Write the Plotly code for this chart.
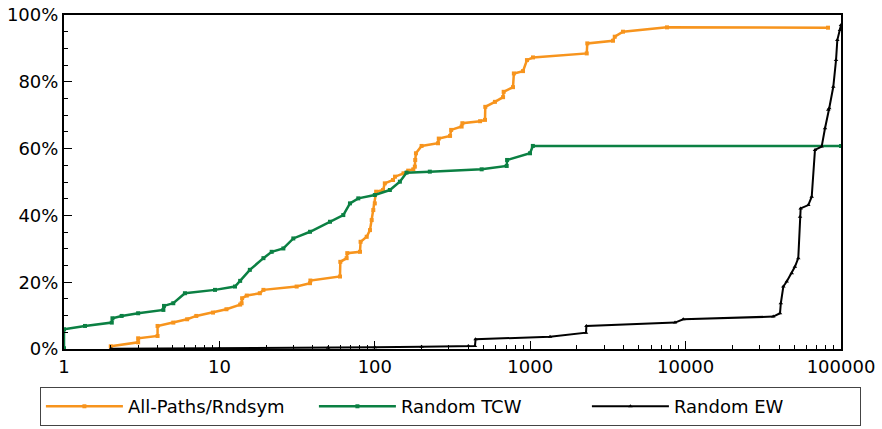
import plotly.graph_objects as go

# All-Paths/Rndsym (orange)
allpaths_x = [2, 3, 3, 4, 4, 5.05, 6.2, 7.1, 9.1, 11.1, 13.6, 13.9, 14, 15, 18.2, 19.2, 31.4,
              38.3, 38.5, 59.7, 60, 65.9, 66.5, 80.3, 81, 88.7, 93.1, 95.5, 97.8, 100, 102,
              113, 116, 131, 135, 153, 164, 177, 181, 182, 184, 200, 255, 258, 305, 310,
              362, 366, 476, 512, 514, 593, 669, 675, 775, 785, 899, 953, 1042, 2311, 2330,
              3411, 3500, 3955, 7590, 82500]
allpaths_y = [0.8, 2.0, 3.2, 3.9, 6.9, 7.9, 8.9, 9.9, 10.9, 11.9, 13.3, 13.7, 15.2, 16.0, 16.7,
              17.7, 18.7, 19.7, 20.5, 21.7, 26.1, 27.2, 28.7, 29.1, 32.1, 33.6, 35.6, 38.6,
              41.6, 43.6, 47.1, 47.6, 49.6, 50.6, 51.6, 52.6, 53.4, 53.8, 54.6, 56.6, 58.6,
              60.8, 61.6, 63.0, 63.8, 65.6, 66.6, 67.6, 68.2, 68.6, 72.5, 74.0, 75.4, 77.0,
              78.4, 82.5, 83.2, 86.5, 87.3, 88.5, 91.5, 92.3, 93.5, 95.0, 96.3, 96.2]

# Random TCW (green)
tcw_x = [1, 1, 1.365, 2.03, 2.05, 2.35, 3.0, 4.36, 4.4, 5.05, 6.0, 9.37, 12.6, 13.6, 15.7,
         19.2, 21.7, 25.8, 29.9, 38.3, 51.5, 62.7, 69.2, 78.3, 100, 125, 145, 160, 226,
         487, 706, 710, 997, 1040, 100000]
tcw_y = [0.2, 5.9, 6.9, 7.9, 9.2, 9.9, 10.7, 11.7, 12.9, 13.7, 16.7, 17.7, 18.7, 20.4, 23.7,
         27.2, 29.1, 30.1, 33.1, 35.1, 38.1, 40.1, 43.6, 45.1, 46.1, 47.6, 50.1, 52.8, 53.1,
         53.8, 54.8, 56.6, 58.6, 60.8, 60.8]

# Random EW (black)
ew_x = [2, 10, 50, 100, 200, 400, 441, 445, 1341, 2286, 2300, 8550, 9660, 36650, 40500,
        41000, 42550, 44750, 48200, 50500, 53100, 54500, 55000, 61600, 64800, 68000, 75100,
        78900, 82800, 84000, 89200, 92900, 94700, 98500, 100000]
ew_y = [0.1, 0.2, 0.4, 0.5, 0.7, 0.9, 0.9, 2.9, 3.7, 4.9, 6.9, 7.9, 8.9, 9.7, 10.7, 13.7,
        18.7, 20.2, 22.7, 24.6, 27.2, 39.6, 42.1, 43.1, 45.6, 59.6, 60.6, 66.1, 71.6, 72.1,
        78.5, 86.5, 92.5, 95.5, 97.0]

FONT = "DejaVu Sans"

fig = go.Figure()
fig.add_trace(go.Scatter(
    x=allpaths_x, y=allpaths_y, name="All-Paths/Rndsym", mode="lines+markers",
    line=dict(color="#f7941d", width=2.5),
    marker=dict(symbol="square", size=4, color="#f7941d"),
))
fig.add_trace(go.Scatter(
    x=tcw_x, y=tcw_y, name="Random TCW", mode="lines+markers",
    line=dict(color="#0b8043", width=2.5),
    marker=dict(symbol="square", size=4, color="#0b8043"),
))
fig.add_trace(go.Scatter(
    x=ew_x, y=ew_y, name="Random EW", mode="lines+markers",
    line=dict(color="black", width=2),
    marker=dict(symbol="triangle-up", size=4, color="black"),
))

fig.update_layout(
    width=882, height=429,
    margin=dict(l=64, r=41, t=15, b=80, autoexpand=False),
    plot_bgcolor="white", paper_bgcolor="white",
    font=dict(family=FONT, size=18, color="black"),
    showlegend=True,
    legend=dict(
        orientation="h", x=-0.031, y=-0.114, xanchor="left", yanchor="top",
        bordercolor="#444", borderwidth=1, entrywidth=181, itemwidth=77,
        font=dict(family=FONT, size=18),
    ),
)
fig.update_xaxes(
    type="log", range=[0, 5], automargin=False, ticklabeloverflow="allow",
    tickvals=[1, 10, 100, 1000, 10000, 100000],
    ticktext=["1", "10", "100", "1000", "10000", "100000"],
    ticks="inside", ticklen=8, tickwidth=1, tickcolor="black",
    minor=dict(ticks="inside", ticklen=4, tickcolor="black", dtick="D1", showgrid=False),
    showline=True, linecolor="black", linewidth=2, mirror=True,
    showgrid=False, zeroline=False,
)
fig.update_yaxes(
    range=[0, 100], dtick=20, ticksuffix="%", automargin=False, ticklabeloverflow="allow",
    ticks="inside", ticklen=8, tickwidth=1, tickcolor="black",
    minor=dict(ticks="inside", ticklen=4, tickcolor="black", dtick=5, showgrid=False),
    showline=True, linecolor="black", linewidth=2, mirror=True,
    showgrid=False, zeroline=False,
)

# drop the default 8px page margin so the figure sits at the window origin
fig.write_html("out.html", config={"displayModeBar": False},
               post_script="document.body.style.margin='0';")
